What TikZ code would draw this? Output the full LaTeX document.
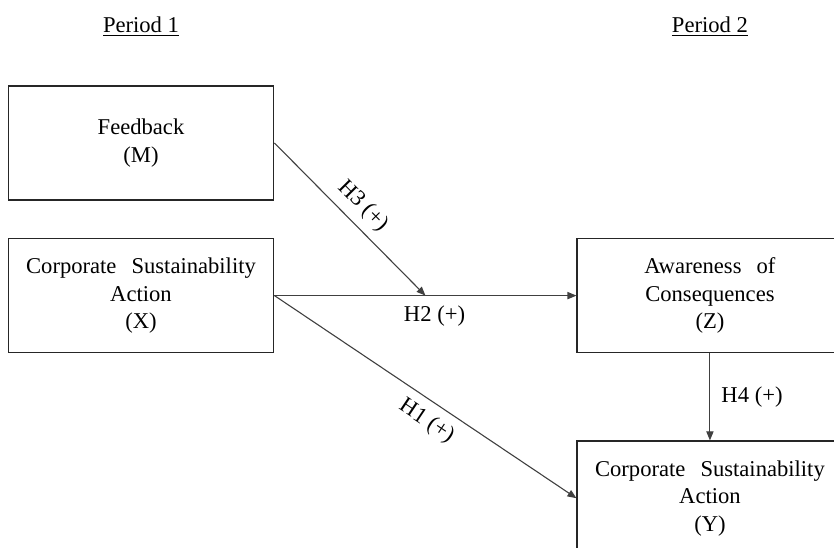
\documentclass[tikz,border=0pt]{standalone}
\usepackage{fontspec}
\setmainfont{Liberation Serif}
\usetikzlibrary{arrows.meta,positioning}

\begin{document}
\begin{tikzpicture}[
  x=1pt,y=1pt,
  box/.style={rectangle,draw=black!85,line width=0.8pt,
              minimum width=132pt,minimum height=57pt,
              text width=126pt,align=center,
              font=\fontsize{11.3}{13.8}\selectfont},
  period/.style={font=\fontsize{11.3}{13.8}\selectfont,inner sep=0pt},
  arr/.style={-{Triangle[length=4.5pt,width=3.6pt]},line width=0.55pt,black!75},
  lbl/.style={font=\fontsize{11.3}{13.8}\selectfont,inner sep=2pt,text=black}
]
\useasboundingbox (0,0) rectangle (417,-273.5);

\node[box] (fb) at (70.5,-71.5) {Feedback\\(M)};
\node[box, below=18.5pt of fb] (xa) {Corporate\ \ Sustainability\\Action\\(X)};
\node[box, right=151pt of xa]  (za) {Awareness\ \ of\\Consequences\\(Z)};
\node[box, below=43.5pt of za] (ya) {Corporate\ \ Sustainability\\Action\\(Y)};

\node[period,anchor=base] (p1) at (70.5,-16) {\underline{Period 1}};
\node[period,anchor=base] (p2) at (p1.base -| za) {\underline{Period 2}};

\draw[arr](xa.east)--coordinate[midway](hit)
  node[lbl,below=3pt,pos=0.53]{H2 (+)} (za.west);
\draw[arr](fb.east)--node[lbl,sloped,above=2pt,midway]{H3 (+)} (hit);
\draw[arr](xa.east)--node[lbl,sloped,below=2.5pt,pos=0.54]{H1 (+)} (ya.west);
\draw[arr](za)--node[lbl,right=3.5pt,midway]{H4 (+)} (ya);
\end{tikzpicture}
\end{document}
